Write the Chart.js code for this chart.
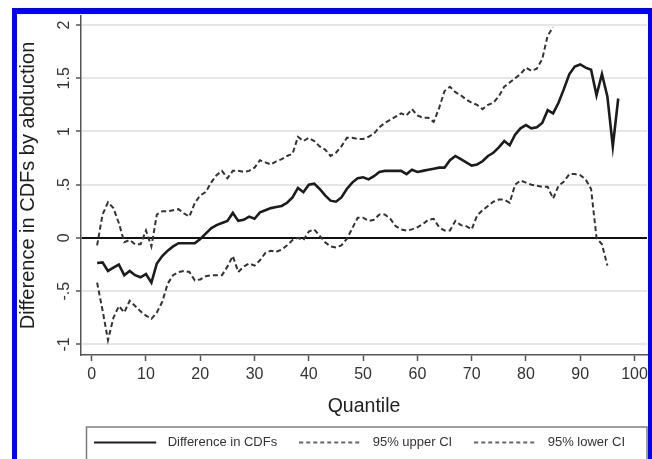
<!DOCTYPE html>
<html>
<head>
<meta charset="utf-8">
<script src="https://cdn.jsdelivr.net/npm/chart.js@4/dist/chart.umd.min.js"></script>
<style>
  html, body { margin: 0; padding: 0; background: #ffffff; }
  #wrap { position: relative; width: 652px; height: 459px; overflow: hidden; background: #ffffff; }
  #chart { position: absolute; left: 0; top: 0; }
  #frame {
    position: absolute; left: 12px; top: 8px; width: 640px; height: 520px;
    box-sizing: border-box; pointer-events: none;
    border-left: 5px solid #0000fe; border-top: 6px solid #0000fe; border-right: 4px solid #0000fe;
  }
</style>
</head>
<body>
<div id="wrap">
  <canvas id="chart" width="652" height="459"></canvas>
  <div id="frame"></div>
</div>
<script>
// Quantiles 1..97 (each series covers a prefix of them)
const quantiles = Array.from({ length: 97 }, (_, i) => i + 1);

// Difference in CDFs by abduction, quantiles 1..97
const differenceInCDFs = [
  -0.235, -0.23, -0.31, -0.28, -0.25, -0.35, -0.31, -0.35, -0.37, -0.34,
  -0.42, -0.24, -0.17, -0.12, -0.08, -0.05, -0.05, -0.05, -0.05, -0.01,
  0.04, 0.09, 0.12, 0.14, 0.16, 0.235, 0.16, 0.17, 0.20, 0.18,
  0.24, 0.26, 0.28, 0.29, 0.30, 0.33, 0.38, 0.47, 0.43, 0.50,
  0.51, 0.46, 0.40, 0.35, 0.34, 0.38, 0.46, 0.52, 0.56, 0.57,
  0.55, 0.58, 0.62, 0.63, 0.63, 0.63, 0.63, 0.60, 0.64, 0.62,
  0.63, 0.64, 0.65, 0.66, 0.66, 0.73, 0.77, 0.74, 0.71, 0.68,
  0.69, 0.72, 0.77, 0.80, 0.85, 0.91, 0.87, 0.97, 1.03, 1.06,
  1.03, 1.04, 1.08, 1.20, 1.17, 1.27, 1.40, 1.54, 1.61, 1.63,
  1.60, 1.58, 1.34, 1.54, 1.33, 0.86, 1.31
];

// 95% upper confidence bound, quantiles 1..85
const upperCI = [
  -0.07, 0.22, 0.335, 0.28, 0.14, -0.04, -0.02, -0.06, -0.06, 0.07,
  -0.08, 0.22, 0.25, 0.25, 0.26, 0.27, 0.23, 0.20, 0.33, 0.40,
  0.43, 0.52, 0.59, 0.63, 0.56, 0.63, 0.63, 0.62, 0.63, 0.66,
  0.73, 0.71, 0.69, 0.72, 0.74, 0.77, 0.79, 0.95, 0.91, 0.94,
  0.91, 0.86, 0.83, 0.77, 0.80, 0.86, 0.94, 0.94, 0.93, 0.93,
  0.95, 0.98, 1.04, 1.08, 1.11, 1.14, 1.17, 1.15, 1.21, 1.15,
  1.13, 1.13, 1.09, 1.22, 1.38, 1.42, 1.37, 1.34, 1.30, 1.27,
  1.25, 1.21, 1.25, 1.27, 1.33, 1.42, 1.46, 1.50, 1.54, 1.60,
  1.57, 1.59, 1.68, 1.90, 1.98
];

// 95% lower confidence bound, quantiles 1..95
const lowerCI = [
  -0.42, -0.68, -0.96, -0.75, -0.64, -0.70, -0.59, -0.64, -0.69, -0.73,
  -0.76, -0.70, -0.60, -0.43, -0.35, -0.32, -0.31, -0.32, -0.40, -0.39,
  -0.36, -0.35, -0.35, -0.35, -0.27, -0.17, -0.32, -0.27, -0.24, -0.26,
  -0.21, -0.14, -0.12, -0.13, -0.11, -0.07, -0.02, 0.00, -0.02, 0.06,
  0.08, 0.02, -0.04, -0.08, -0.09, -0.07, -0.01, 0.09, 0.19, 0.19,
  0.16, 0.17, 0.22, 0.22, 0.18, 0.11, 0.08, 0.07, 0.08, 0.10,
  0.13, 0.17, 0.18, 0.10, 0.07, 0.07, 0.16, 0.12, 0.11, 0.08,
  0.21, 0.26, 0.30, 0.34, 0.36, 0.36, 0.33, 0.50, 0.54, 0.52,
  0.50, 0.49, 0.48, 0.48, 0.37, 0.49, 0.53, 0.60, 0.60, 0.59,
  0.55, 0.46, 0.00, -0.06, -0.26
];

const seriesNames = ['Difference in CDFs', '95% upper CI', '95% lower CI'];
const xTickValues = [0, 10, 20, 30, 40, 50, 60, 70, 80, 90, 100];
const yTickValues = [-1, -0.5, 0, 0.5, 1, 1.5, 2];
const yTickLabels = ['-1', '-.5', '0', '.5', '1', '1.5', '2'];

const toPoints = (vals) => vals.map((v, i) => ({ x: quantiles[i], y: v }));

Chart.defaults.font.family = "'Liberation Sans', Arial, Helvetica, sans-serif";
Chart.defaults.color = '#333333';

// Legend glyph: a line sample followed by a little blank space before the text
function legendGlyph(color, dash, width) {
  const c = document.createElement('canvas');
  c.width = 67; c.height = 6;
  const g = c.getContext('2d');
  g.strokeStyle = color;
  g.lineWidth = width;
  g.setLineDash(dash);
  g.beginPath();
  g.moveTo(0, 3);
  g.lineTo(62, 3);
  g.stroke();
  return c;
}
const glyphs = [
  legendGlyph('#1c1c1c', [], 2),
  legendGlyph('#333333', [4, 3], 1.5),
  legendGlyph('#333333', [4, 3], 1.5)
];

// Frame drawn around the legend row
const legendFrame = {
  id: 'legendFrame',
  afterDraw(chart) {
    const { ctx, chartArea, legend } = chart;
    const itemMid = legend.top + legend.options.labels.padding + 6.5;
    ctx.save();
    ctx.strokeStyle = '#7d7d7d';
    ctx.lineWidth = 1.5;
    ctx.strokeRect(chartArea.left + 5.5, itemMid - 15.5, chartArea.right - chartArea.left - 5.5, 60);
    ctx.restore();
  }
};

new Chart(document.getElementById('chart'), {
  type: 'line',
  data: {
    datasets: [
      {
        label: seriesNames[0],
        data: toPoints(differenceInCDFs),
        borderColor: '#1c1c1c',
        borderWidth: 2.6,
        pointRadius: 0,
        tension: 0
      },
      {
        label: seriesNames[1],
        data: toPoints(upperCI),
        borderColor: '#333333',
        borderWidth: 2,
        borderDash: [5, 3],
        pointRadius: 0,
        tension: 0
      },
      {
        label: seriesNames[2],
        data: toPoints(lowerCI),
        borderColor: '#333333',
        borderWidth: 2,
        borderDash: [5, 3],
        pointRadius: 0,
        tension: 0
      }
    ]
  },
  options: {
    responsive: false,
    animation: false,
    devicePixelRatio: 1,
    layout: { padding: { left: 17, top: 16, right: 5, bottom: 0 } },
    plugins: {
      tooltip: { enabled: false },
      legend: {
        position: 'bottom',
        align: 'end',
        labels: {
          usePointStyle: true,
          pointStyleWidth: 67,
          padding: 22,
          color: '#333333',
          font: { size: 13 },
          generateLabels(chart) {
            const items = Chart.defaults.plugins.legend.labels.generateLabels(chart);
            items.forEach((it, i) => { it.pointStyle = glyphs[i]; });
            return items;
          }
        }
      }
    },
    scales: {
      x: {
        type: 'linear',
        min: -1.97,
        max: 102.3,
        afterBuildTicks(scale) { scale.ticks = xTickValues.map(v => ({ value: v })); },
        afterFit(scale) { scale.height = 59; },
        grid: { drawOnChartArea: false, drawTicks: true, tickLength: 6, tickColor: '#555555', tickWidth: 1.5 },
        border: { display: true, color: '#555555', width: 1.5 },
        ticks: { padding: 4, color: '#333333', font: { size: 16 }, maxRotation: 0 },
        title: {
          display: true,
          text: 'Quantile',
          color: '#1e1e1e',
          font: { size: 19.5, lineHeight: 1 },
          padding: { top: 0, bottom: -2.4 }
        }
      },
      y: {
        type: 'linear',
        min: -1.1,
        max: 2.085,
        afterBuildTicks(scale) { scale.ticks = yTickValues.map(v => ({ value: v })); },
        afterFit(scale) { scale.width = 64; },
        grid: {
          color: (c) => (c.tick && c.tick.value === 0 ? '#111111' : '#e6e6e6'),
          lineWidth: 2,
          drawTicks: true,
          tickLength: 5,
          tickColor: '#555555',
          tickWidth: 1.5
        },
        border: { display: true, color: '#555555', width: 1.5 },
        ticks: {
          padding: 0,
          minRotation: 90,
          maxRotation: 90,
          crossAlign: 'center',
          color: '#333333',
          font: { size: 16 },
          callback: (value) => {
            const k = yTickValues.indexOf(value);
            return k >= 0 ? yTickLabels[k] : '';
          }
        },
        title: {
          display: true,
          text: 'Difference in CDFs by abduction',
          color: '#1e1e1e',
          font: { size: 20, lineHeight: 1 },
          padding: { top: 1, bottom: 0 }
        }
      }
    }
  },
  plugins: [legendFrame]
});
</script>
</body>
</html>
